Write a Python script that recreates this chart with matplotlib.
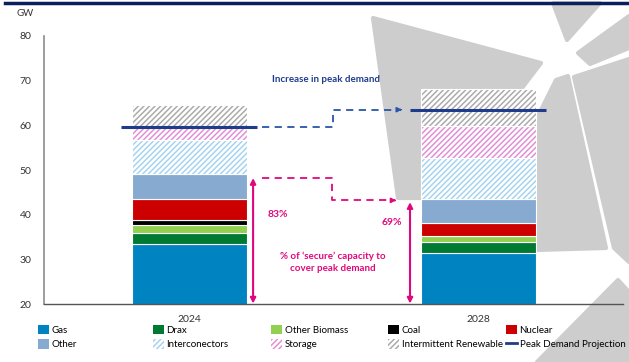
import matplotlib.pyplot as plt
import numpy as np
from matplotlib.patches import Patch, Polygon
from matplotlib.lines import Line2D

plt.rcParams['font.family'] = ['Lato', 'DejaVu Sans']

years = ["2024", "2028"]
sources = ["Gas", "Drax", "Other Biomass", "Coal", "Nuclear", "Other",
           "Interconectors", "Storage", "Intermittent Renewable"]
capacity = {
    "Gas": [33.5, 31.5],
    "Drax": [2.3, 2.4],
    "Other Biomass": [1.9, 1.4],
    "Coal": [1.0, 0.0],
    "Nuclear": [4.8, 2.8],
    "Other": [5.5, 5.5],
    "Interconectors": [7.7, 9.1],
    "Storage": [2.6, 7.2],
    "Intermittent Renewable": [5.3, 8.3],
}
peak_demand = [59.6, 63.5]
secure_share = ["83%", "69%"]

colors = {
    "Gas": "#0083c1", "Drax": "#007a33", "Other Biomass": "#92d050",
    "Coal": "#000000", "Nuclear": "#cc0000", "Other": "#86aad0",
    "Interconectors": "#a6d4f0", "Storage": "#e290d4",
    "Intermittent Renewable": "#ababab",
}
hatched = ["Interconectors", "Storage", "Intermittent Renewable"]
navy = "#1f3c8c"
pink = "#e0077d"

W, H = 629, 362
fig = plt.figure(figsize=(W / 100, H / 100), dpi=100)
plt.rcParams['hatch.linewidth'] = 1.1

def fp(x, y):
    return (x / W, 1 - y / H)

# watermark shapes in the background
shapes = [
    [(373, 18), (541, 63), (522, 88), (425, 198), (398, 198)],
    [(556, 80), (568, 76), (606, 248), (536, 250), (536, 120)],
    [(553, 3), (600, 3), (567, 40)],
    [(578, 53), (629, 16), (629, 48), (590, 64)],
    [(574, 77), (629, 59), (629, 262), (614, 248)],
    [(618, 280), (629, 292), (629, 362), (537, 362)],
]
for s in shapes:
    fig.patches.append(Polygon([fp(*p) for p in s], closed=True, transform=fig.transFigure,
                               facecolor="#cdcdcd", edgecolor="#cdcdcd", lw=3,
                               joinstyle="round", zorder=-1))

fig.add_artist(Line2D([5 / W, 1], [1 - 3 / H, 1 - 3 / H], color="#0b1f5e", lw=2.5))

ax = fig.add_axes([44 / W, 58 / H, 579 / W, 268 / H])
ax.set_facecolor("none")

x = np.arange(len(years))
bw = 0.398
bottom = np.zeros(len(years))
for src in sources:
    vals = np.array(capacity[src])
    if src in hatched:
        ax.bar(x, vals, bw, bottom=bottom, facecolor="white", edgecolor=colors[src],
               hatch="//////", lw=0, zorder=2)
        ax.bar(x, vals, bw, bottom=bottom, facecolor="none", edgecolor="white",
               lw=0.8, zorder=2)
    else:
        ax.bar(x, vals, bw, bottom=bottom, color=colors[src], edgecolor="white",
               lw=0.8, zorder=2)
    bottom += vals

# peak demand lines
for i, p in enumerate(peak_demand):
    ax.plot([x[i] - 0.237, x[i] + 0.232], [p, p], color=navy, lw=2.2, zorder=4,
            solid_capstyle="butt")

# blue dashed connector
ax.plot([0.25, 0.497, 0.497, 0.72], [peak_demand[0], peak_demand[0], peak_demand[1], peak_demand[1]],
        color="#2a55a8", lw=1.3, ls=(0, (4, 3)), zorder=3)
ax.annotate("", xy=(0.745, peak_demand[1]), xytext=(0.72, peak_demand[1]),
            arrowprops=dict(arrowstyle="-|>", color="#2a55a8", lw=1.2, mutation_scale=7))
ax.text(0.472, 70.3, "Increase in peak demand", color=navy, fontsize=7, fontweight="bold",
        ha="center", va="center")

# secure capacity annotations
secure_top = [sum(capacity[s][i] for s in sources[:6]) for i in range(2)]
arrow_x = [0.22, 0.763]
for i in range(2):
    ax.annotate("", xy=(arrow_x[i], secure_top[i] - 0.8), xytext=(arrow_x[i], 20.1),
                arrowprops=dict(arrowstyle="<|-|>", color=pink, lw=1.5, mutation_scale=8,
                                shrinkA=0, shrinkB=0), annotation_clip=False)
ax.plot([0.251, 0.493, 0.493, 0.70], [secure_top[0] - 0.7, secure_top[0] - 0.7, 43.2, 43.2],
        color=pink, lw=1.3, ls=(0, (4, 3)), zorder=3)
ax.annotate("", xy=(0.725, 43.2), xytext=(0.70, 43.2),
            arrowprops=dict(arrowstyle="-|>", color=pink, lw=1.2, mutation_scale=7))
ax.text(0.306, 40.0, secure_share[0], color=pink, fontsize=7.5, fontweight="bold",
        ha="center", va="center")
ax.text(0.70, 38.2, secure_share[1], color=pink, fontsize=7.5, fontweight="bold",
        ha="center", va="center")
ax.text(0.497, 29.4, "% of \u2018secure\u2019 capacity to\ncover peak demand", color=pink,
        fontsize=7, fontweight="bold", ha="center", va="center", linespacing=1.5)

ax.set_xlim(-0.5035, 1.5)
ax.set_ylim(20, 80)
ax.set_yticks([20, 30, 40, 50, 60, 70, 80])
ax.set_xticks(x)
ax.set_xticklabels(years)
ax.tick_params(length=0, labelsize=7.5, colors="#333333")
ax.tick_params(axis="y", pad=9)
ax.tick_params(axis="x", pad=8)
for s in ["top", "right"]:
    ax.spines[s].set_visible(False)
ax.spines["left"].set_color("#8c8c8c")
ax.spines["left"].set_linewidth(1.2)
ax.spines["bottom"].set_color("#555555")
ax.spines["bottom"].set_linewidth(1.0)

fig.text(25 / W, 1 - 14 / H, "GW", fontsize=7, color="#333333", ha="center", va="center")

# legend, one small legend per column
def handle(src):
    if src in hatched:
        return Patch(facecolor="white", edgecolor=colors[src], hatch="//////", lw=0)
    return Patch(facecolor=colors[src], edgecolor="none")

columns = [["Gas", "Other"], ["Drax", "Interconectors"], ["Other Biomass", "Storage"],
           ["Coal", "Intermittent Renewable"], ["Nuclear", "Peak Demand Projection"]]
col_x = [38, 153, 271, 388, 506]
for cx, col in zip(col_x, columns):
    hs = []
    for src in col:
        if src == "Peak Demand Projection":
            hs.append(Line2D([0], [0], color=navy, lw=2))
        else:
            hs.append(handle(src))
    fig.legend(hs, col, loc="upper left", bbox_to_anchor=fp(cx, 325), frameon=False,
               fontsize=7, handlelength=1.1, handleheight=1.1, handletextpad=0.3,
               labelspacing=0.45, borderaxespad=0, borderpad=0)

fig.savefig("out.png", dpi=100)
